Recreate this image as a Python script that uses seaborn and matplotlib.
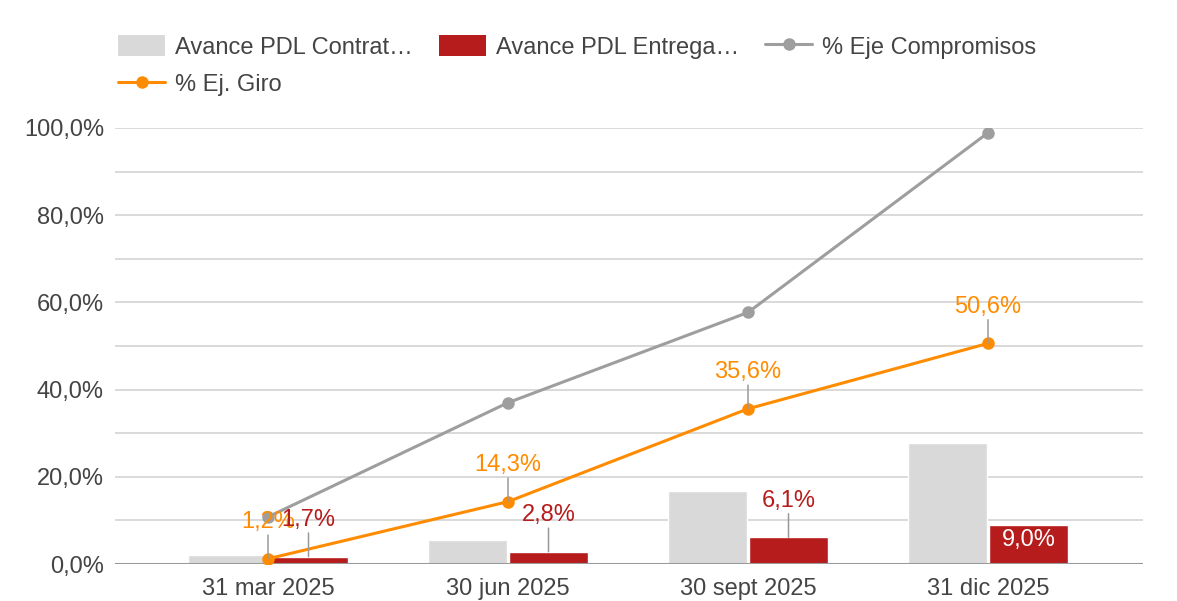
import numpy as np
import pandas as pd
import matplotlib
matplotlib.use("Agg")
import matplotlib.pyplot as plt
from matplotlib.patches import Patch
from matplotlib.lines import Line2D
from matplotlib.ticker import FixedLocator
import seaborn as sns

# ---------------- data ----------------
categorias = ["31 mar 2025", "30 jun 2025", "30 sept 2025", "31 dic 2025"]
pdl_contratado = [2.0, 5.5, 16.8, 27.8]
pdl_entregado = [1.7, 2.8, 6.1, 9.0]
eje_compromisos = [10.8, 37.0, 57.7, 98.9]
ej_giro = [1.2, 14.3, 35.6, 50.6]
serie_nombres = ["Avance PDL Contrat…", "Avance PDL Entrega…", "% Eje Compromisos", "% Ej. Giro"]
y_ticks = [0, 20, 40, 60, 80, 100]
y_ticklabels = ["0,0%", "20,0%", "40,0%", "60,0%", "80,0%", "100,0%"]

# ---------------- style ----------------
sns.set_theme(style="white")
plt.rcParams["font.family"] = ["Liberation Sans", "DejaVu Sans"]

C_GRIS_BAR = "#d9d9d9"
C_ROJO = "#b71c1c"
C_GRIS_LIN = "#9e9e9e"
C_NARANJA = "#ff8c00"
C_TEXTO = "#444444"
C_GRID = "#d0d0d0"
C_LEADER = "#999999"
FS = 17

fig = plt.figure(figsize=(11.77, 6.01), dpi=100)
ax = fig.add_axes([115 / 1177, 37 / 601, 1028 / 1177, 436 / 601])

df = pd.DataFrame({
    "fecha": categorias * 2,
    "valor": pdl_contratado + pdl_entregado,
    "serie": [serie_nombres[0]] * 4 + [serie_nombres[1]] * 4,
})
sns.barplot(data=df, x="fecha", y="valor", hue="serie", order=categorias,
            hue_order=serie_nombres[:2], palette=[C_GRIS_BAR, C_ROJO],
            width=0.675, gap=0.03, saturation=1, legend=False, ax=ax,
            errorbar=None, zorder=2)

pos = np.arange(len(categorias))
sns.lineplot(x=pos, y=eje_compromisos, color=C_GRIS_LIN, marker="o",
             markersize=9, markeredgewidth=0, linewidth=2.2, ax=ax, zorder=4)
sns.lineplot(x=pos, y=ej_giro, color=C_NARANJA, marker="o",
             markersize=9, markeredgewidth=0, linewidth=2.2, ax=ax, zorder=5)

# axes
ax.set_xlim(-0.6375, 3.6458)
ax.set_ylim(0, 100)
ax.set_yticks(y_ticks)
ax.set_yticklabels(y_ticklabels)
ax.yaxis.set_minor_locator(FixedLocator([10, 30, 50, 70, 90]))
ax.set_xticks(pos)
ax.set_xticklabels(categorias)
ax.grid(True, which="both", axis="y", color=C_GRID, linewidth=1.1, zorder=0)
ax.grid(False, axis="x")
ax.set_axisbelow(True)
ax.axhline(0, color="#9a9a9a", linewidth=1.5, zorder=3)
for s in ax.spines.values():
    s.set_visible(False)
ax.tick_params(axis="both", which="both", length=0, labelsize=FS, labelcolor=C_TEXTO)
ax.tick_params(axis="y", pad=8)
ax.tick_params(axis="x", pad=10)
ax.set_xlabel("")
ax.set_ylabel("")


def fmt(v):
    return f"{v:.1f}%".replace(".", ",")


def label_above(x, y, txt, color):
    ax.annotate("", xy=(x, y), xytext=(0, 17), textcoords="offset points",
                xycoords="data",
                arrowprops=dict(arrowstyle="-", color=C_LEADER, lw=1.1,
                                shrinkA=0, shrinkB=0), zorder=6)
    ax.annotate(txt, xy=(x, y), xytext=(0, 26.5), textcoords="offset points",
                ha="center", va="center", fontsize=FS, color=color, zorder=7)


bar_off = 0.675 / 4
for i, v in enumerate(ej_giro):
    label_above(pos[i], v, fmt(v), C_NARANJA)
for i, v in enumerate(pdl_entregado):
    if i == len(pdl_entregado) - 1:
        ax.annotate(fmt(v), xy=(pos[i] + bar_off, v), xytext=(0, -11),
                    textcoords="offset points", ha="center", va="center",
                    fontsize=FS, color="white", zorder=7)
    else:
        label_above(pos[i] + bar_off, v, fmt(v), C_ROJO)

# legend
handles = [
    Patch(facecolor=C_GRIS_BAR, edgecolor="none"),
    Line2D([0], [0], color=C_NARANJA, lw=2.2, marker="o", markersize=9, markeredgewidth=0),
    Patch(facecolor=C_ROJO, edgecolor="none"),
    Line2D([0], [0], color=C_GRIS_LIN, lw=2.2, marker="o", markersize=9, markeredgewidth=0),
]
labels = [serie_nombres[0], serie_nombres[3], serie_nombres[1], serie_nombres[2]]
fig.legend(handles, labels, ncol=3, loc="upper left",
           bbox_to_anchor=(118 / 1177, 1 - 35 / 601), frameon=False,
           fontsize=FS, labelcolor=C_TEXTO, borderpad=0, borderaxespad=0,
           handlelength=2.0, handleheight=1.0, handletextpad=0.42,
           columnspacing=1.1, labelspacing=0.6)

fig.savefig("out.png", dpi=100)
